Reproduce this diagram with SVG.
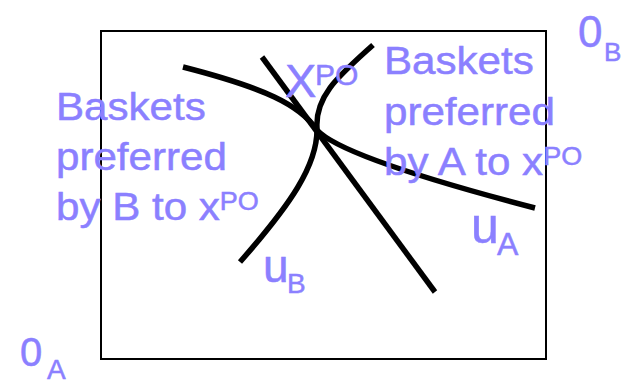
<svg xmlns="http://www.w3.org/2000/svg" width="622" height="384" viewBox="0 0 622 384">
<style>
.t{font-family:"Liberation Sans",Arial,sans-serif;fill:#8B80FF;stroke:#8B80FF;stroke-width:0.5;}
.c{fill:none;stroke:#000;stroke-width:5.5;stroke-linecap:butt;}
</style>
<rect width="622" height="384" fill="#fff"/>
<g id="box"><rect x="101" y="31" width="445" height="328" fill="none" stroke="#000" stroke-width="2"/></g>
<g id="connectors">
<path id="uA" class="c" d="M183,67 C265,88 300,105 317,130 C335,150 420,178 535,208"/>
<path id="uB" class="c" d="M373,45 C340,75 315,95 317,128 C318,165 290,205 240,262"/>
<path id="contract" class="c" d="M262,57 L435,292"/>
</g>
<g id="xpo"><text class="t" x="285" y="97" font-size="47">X<tspan font-size="30" x="315" y="85">PO</tspan></text></g>
<g id="leftText">
<text class="t" font-size="39" transform="translate(56,120) scale(1.08,1)">Baskets</text>
<text class="t" font-size="39" transform="translate(56,170) scale(1.08,1)">preferred</text>
<text class="t" font-size="39" transform="translate(56,220) scale(1.08,1)">by B to x<tspan font-size="25" dy="-10">PO</tspan></text>
</g>
<g id="rightText">
<text class="t" font-size="39" transform="translate(384,74) scale(1.08,1)">Baskets</text>
<text class="t" font-size="39" transform="translate(384,125) scale(1.08,1)">preferred</text>
<text class="t" font-size="39" transform="translate(384,175) scale(1.08,1)">by A to x<tspan font-size="25" dy="-10">PO</tspan></text>
</g>
<g id="originB"><text class="t" x="578" y="47" font-size="44">0<tspan font-size="26" x="604" y="61">B</tspan></text></g>
<g id="originA"><text class="t" x="20" y="366" font-size="40">0<tspan font-size="28" x="47" y="379">A</tspan></text></g>
<g id="labelA"><text class="t" x="471" y="243" font-size="50">u<tspan font-size="32" x="497" y="255">A</tspan></text></g>
<g id="labelB"><text class="t" x="263" y="282" font-size="46">u<tspan font-size="28" x="287" y="293">B</tspan></text></g>
</svg>
